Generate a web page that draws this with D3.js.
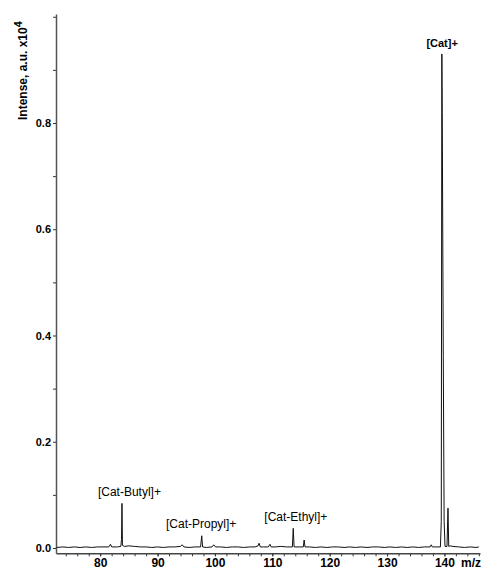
<!DOCTYPE html>
<html>
<head>
<meta charset="utf-8">
<script src="https://cdn.jsdelivr.net/npm/d3@7"></script>
<style>
  body { margin: 0; background: #fff; }
  text { font-family: "Liberation Sans", Arial, sans-serif; }
</style>
</head>
<body>
<div id="chart"></div>
<script>
// chart size
const width = 485
const height = 570

// spectrum: [m/z, intensity (a.u. x10^4)]
const spectrum = [
  [72.4, 0.001], [73.5, 0.002], [74.5, 0.001], [75.5, 0.002], [76.5, 0.001],
  [77.5, 0.002], [78.5, 0.001], [79.5, 0.002], [80.5, 0.002], [81.5, 0.002],
  [81.8, 0.007], [82.0, 0.002], [83.0, 0.002], [83.6, 0.003], [83.72, 0.016],
  [83.8, 0.084], [83.88, 0.005], [84.2, 0.003], [85.0, 0.004], [86.0, 0.003],
  [87.0, 0.002], [88.0, 0.002], [89.0, 0.001], [90.0, 0.002], [91.0, 0.001],
  [92.0, 0.002], [93.0, 0.002], [94.0, 0.003], [94.3, 0.006], [94.6, 0.002],
  [95.5, 0.001], [96.5, 0.002], [97.5, 0.002], [97.7, 0.023], [97.85, 0.002],
  [98.5, 0.001], [99.5, 0.002], [99.8, 0.006], [100.1, 0.002], [101.0, 0.002],
  [102.0, 0.001], [103.0, 0.002], [104.0, 0.002], [105.0, 0.001], [106.0, 0.002],
  [107.0, 0.002], [107.5, 0.004], [107.7, 0.009], [107.9, 0.002], [108.5, 0.002],
  [109.3, 0.002], [109.6, 0.007], [109.8, 0.002], [110.5, 0.002], [111.5, 0.003],
  [112.5, 0.002], [113.5, 0.002], [113.65, 0.037], [113.8, 0.002], [114.5, 0.002],
  [115.4, 0.002], [115.55, 0.015], [115.7, 0.002], [116.5, 0.002], [117.5, 0.001],
  [118.5, 0.002], [119.5, 0.001], [120.5, 0.002], [121.5, 0.002], [122.5, 0.001],
  [123.5, 0.002], [124.5, 0.001], [125.5, 0.002], [126.5, 0.001], [127.5, 0.002],
  [128.5, 0.002], [129.5, 0.001], [130.5, 0.002], [131.5, 0.001], [132.5, 0.002],
  [133.5, 0.001], [134.5, 0.002], [135.5, 0.001], [136.5, 0.002], [137.5, 0.002],
  [137.7, 0.006], [137.9, 0.002], [138.5, 0.002], [139.3, 0.002], [139.45, 0.05],
  [139.55, 0.93], [139.62, 0.82], [139.8, 0.36], [139.95, 0.05], [140.1, 0.003],
  [140.45, 0.003], [140.62, 0.075], [140.75, 0.003], [141.0, 0.004], [141.5, 0.003],
  [142.5, 0.002], [143.5, 0.001], [144.5, 0.002], [145.5, 0.001], [146.0, 0.002]
]

// peak annotations
const labelText = ["[Cat]+", "[Cat-Butyl]+", "[Cat-Propyl]+", "[Cat-Ethyl]+"]
const labelMz = [139.6, 85.1, 97.6, 114.1]
const labelLevel = [0.943, 0.098, 0.038, 0.051]
const labelBold = [true, false, false, false]

// ticks
const xMajorTicks = [80, 90, 100, 110, 120, 130, 140]
const xMinorTicks = d3.range(74, 147, 2)
const yMajorTicks = [0.0, 0.2, 0.4, 0.6, 0.8]
const yMinorTicks = [0.1, 0.3, 0.5, 0.7, 0.9, 1.0]

const svg = d3.select("#chart")
  .append("svg")
  .attr("width", width)
  .attr("height", height)

const x = d3.scaleLinear()
  .domain([72.3, 146.2])
  .range([56, 480])

const y = d3.scaleLinear()
  .domain([-0.01, 1.005])
  .range([553.3, 14.1])

// minor ticks first, then main axes on top
svg.append("g")
  .attr("transform", `translate(0,${y.range()[0]})`)
  .call(d3.axisBottom(x).tickValues(xMinorTicks).tickSize(3).tickFormat(""))
  .call(g => g.select(".domain").remove())
  .call(g => g.selectAll("line").attr("stroke", "#333"))

svg.append("g")
  .attr("transform", `translate(${x.range()[0]},0)`)
  .call(d3.axisLeft(y).tickValues(yMinorTicks).tickSize(3).tickFormat(""))
  .call(g => g.select(".domain").remove())
  .call(g => g.selectAll("line").attr("stroke", "#333"))

const xAxis = svg.append("g")
  .attr("transform", `translate(0,${y.range()[0]})`)
  .call(d3.axisBottom(x).tickValues(xMajorTicks).tickSize(3).tickSizeOuter(0).tickPadding(2))
xAxis.select(".domain").attr("stroke", "#444").attr("stroke-width", 1.5)
xAxis.selectAll("line").attr("stroke", "#333")
xAxis.selectAll("text")
  .attr("font-size", 12)
  .attr("font-weight", "bold")
  .attr("font-family", "Liberation Sans, Arial, sans-serif")
  .attr("fill", "#000")

const yAxis = svg.append("g")
  .attr("transform", `translate(${x.range()[0]},0)`)
  .call(d3.axisLeft(y).tickValues(yMajorTicks).tickSize(3).tickSizeOuter(0).tickPadding(2).tickFormat(d3.format(".1f")))
yAxis.select(".domain").attr("stroke", "#555").attr("stroke-width", 1.5)
yAxis.selectAll("line").attr("stroke", "#333")
yAxis.selectAll("text")
  .attr("font-size", 11)
  .attr("font-weight", "bold")
  .attr("font-family", "Liberation Sans, Arial, sans-serif")
  .attr("fill", "#000")

// spectrum trace
const line = d3.line()
  .x(d => x(d[0]))
  .y(d => y(d[1]))

svg.append("path")
  .datum(spectrum)
  .attr("d", line)
  .attr("fill", "none")
  .attr("stroke", "#111")
  .attr("stroke-width", 1)

// peak labels
svg.append("g")
  .selectAll("text")
  .data(labelText)
  .join("text")
    .attr("x", (d, i) => x(labelMz[i]))
    .attr("y", (d, i) => y(labelLevel[i]))
    .attr("text-anchor", "middle")
    .attr("font-size", (d, i) => labelBold[i] ? 11 : 12)
    .attr("font-weight", (d, i) => labelBold[i] ? "bold" : "normal")
    .attr("fill", "#000")
    .text(d => d)

// axis titles
const yTitle = svg.append("text")
  .attr("transform", "translate(27,120) rotate(-90)")
  .attr("font-size", 12)
  .attr("font-weight", "bold")
  .attr("fill", "#000")
yTitle.append("tspan").text("Intense, a.u. x10")
yTitle.append("tspan").attr("dy", -5).attr("font-size", 11).text("4")

svg.append("text")
  .attr("x", 461)
  .attr("y", 567)
  .attr("font-size", 12)
  .attr("font-weight", "bold")
  .attr("fill", "#000")
  .text("m/z")
</script>
</body>
</html>
